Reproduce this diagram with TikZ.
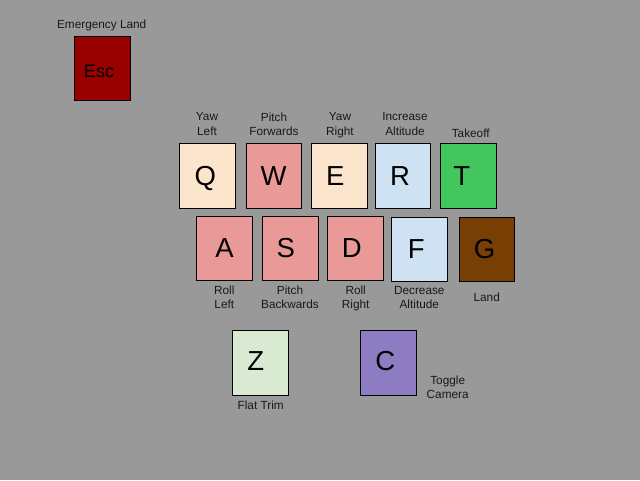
\documentclass[tikz,border=0pt]{standalone}
\usepackage{fontspec}
\setmainfont{Liberation Sans}
\definecolor{bg}{HTML}{999999}
\definecolor{escred}{HTML}{990000}
\definecolor{peach}{HTML}{FCE5CD}
\definecolor{pink}{HTML}{EA9999}
\definecolor{lblue}{HTML}{CFE2F3}
\definecolor{tgreen}{HTML}{44C65F}
\definecolor{brown}{HTML}{783F04}
\definecolor{lgreen}{HTML}{D9EAD3}
\definecolor{purple}{HTML}{8E7CC3}
\begin{document}
\begin{tikzpicture}[x=1pt,y=-1pt,
  keybox/.style={draw=black, line width=0.9pt, inner sep=0pt},
  keyletter/.style={anchor=base, inner sep=0pt, font=\fontsize{27.5}{30}\selectfont},
  lbl/.style={align=center, inner sep=0pt, text depth=0pt, text=black!90, font=\fontsize{11.8}{14.3}\selectfont}]
\fill[bg] (0,0) rectangle (640,480);
\useasboundingbox (0,0) rectangle (640,480);
% key boxes
\node[keybox, fill=escred, minimum width=56pt, minimum height=64pt] (esc) at (102,68) {};
\node[keybox, fill=peach, minimum width=56pt, minimum height=65pt] (q) at (207.3,175.8) {};
\node[keybox, fill=pink, minimum width=54.6pt, minimum height=65pt] (w) at (274,175.8) {};
\node[keybox, fill=peach, minimum width=55.6pt, minimum height=65pt] (e) at (339.5,175.8) {};
\node[keybox, fill=lblue, minimum width=55.4pt, minimum height=65pt] (r) at (403,175.8) {};
\node[keybox, fill=tgreen, minimum width=55.7pt, minimum height=65pt] (t) at (468.2,175.8) {};
\node[keybox, fill=pink, minimum width=56pt, minimum height=63.6pt] (a) at (224.3,248.5) {};
\node[keybox, fill=pink, minimum width=55.6pt, minimum height=63.6pt] (s) at (290.5,248.5) {};
\node[keybox, fill=pink, minimum width=56pt, minimum height=63.6pt] (d) at (355.3,248.5) {};
\node[keybox, fill=lblue, minimum width=56pt, minimum height=64pt] (f) at (419.3,249.3) {};
\node[keybox, fill=brown, minimum width=55pt, minimum height=64pt] (g) at (486.8,249) {};
\node[keybox, fill=lgreen, minimum width=56pt, minimum height=65pt] (z) at (260.3,362.8) {};
\node[keybox, fill=purple, minimum width=56pt, minimum height=65pt] (c) at (388.3,362.8) {};
% key letters
\node[keyletter, font=\fontsize{18}{20}\selectfont] (tesc) at (99,77.3) {Esc};
\node[keyletter] (tq) at (205.3,185.5) {Q};
\node[keyletter] (tw) at (273.7,185.5) {W};
\node[keyletter] (te) at (335.3,185.5) {E};
\node[keyletter] (tr) at (400,185.5) {R};
\node[keyletter] (tt) at (461.7,185.5) {T};
\node[keyletter] (ta) at (224.5,257.5) {A};
\node[keyletter] (ts) at (285.7,257.5) {S};
\node[keyletter] (td) at (351.7,257.5) {D};
\node[keyletter] (tf) at (416.2,258) {F};
\node[keyletter] (tg) at (484.5,258) {G};
\node[keyletter] (tz) at (255.7,370) {Z};
\node[keyletter] (tc) at (385.3,370.5) {C};
% labels
\node[lbl] (lesc) at (101.7,24.2) {Emergency Land};
\node[lbl] (lq) at (207,124) {Yaw\\Left};
\node[lbl] (lw) at (274,124) {Pitch\\Forwards};
\node[lbl] (le) at (340,124) {Yaw\\Right};
\node[lbl] (lr) at (405,124) {Increase\\Altitude};
\node[lbl] (lt) at (470.7,133.5) {Takeoff};
\node[lbl] (la) at (224.3,297.3) {Roll\\Left};
\node[lbl] (ls) at (290,297.3) {Pitch\\Backwards};
\node[lbl] (ld) at (355.7,297.3) {Roll\\Right};
\node[lbl] (lf) at (419.3,297.3) {Decrease\\Altitude};
\node[lbl] (lg) at (486.7,297.5) {Land};
\node[lbl] (lz) at (260.7,405) {Flat Trim};
\node[lbl] (lc) at (447.7,387.2) {Toggle\\Camera};
\end{tikzpicture}
\end{document}
